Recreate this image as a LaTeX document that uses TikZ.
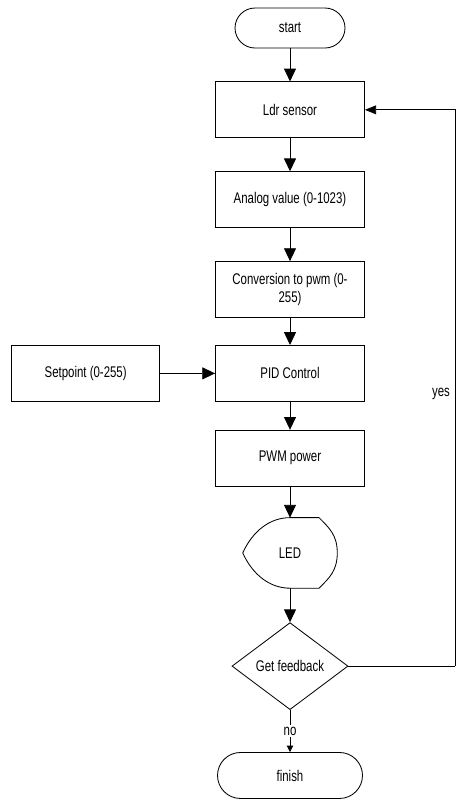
\documentclass[tikz,border=0pt]{standalone}
\usepackage{fontspec}
\setmainfont{Liberation Sans}[FakeStretch=0.74]
\usepackage{tikz}
\usetikzlibrary{shapes.geometric, arrows.meta, positioning}
\tikzset{
	terminal/.style={
		rectangle,
		rounded corners=0.5cm,
		minimum width=2.75cm,
		minimum height=1cm,
		text centered,
		draw=black,
		fill=white,
		line width=0.6pt,
		font=\fontsize{11}{12}\selectfont
	},
	process/.style={
		rectangle,
		minimum width=3.725cm,
		minimum height=1.4cm,
		text centered,
		align=center,
		draw=black,
		fill=white,
		line width=0.6pt,
		font=\fontsize{11}{13}\selectfont
	},
	decision/.style={
		diamond,
		aspect=1.33,
		minimum width=2.9cm,
		minimum height=2.175cm,
		inner sep=0pt,
		text centered,
		draw=black,
		fill=white,
		line width=0.6pt,
		font=\fontsize{11}{12}\selectfont
	},
	display/.style={
		rectangle,
		minimum width=2.35cm,
		minimum height=1.75cm,
		text centered,
		font=\fontsize{11}{12}\selectfont
	},
	arrow/.style={line width=0.6pt,-{Triangle[length=3.2mm,width=3mm]}},
	smallarrow/.style={line width=0.6pt,-{Triangle[length=1.6mm,width=1.6mm]}}
}

\begin{document}
\begin{tikzpicture}
				\useasboundingbox (0,0) rectangle (11.575,-20.025);
				\node (start) [terminal] at (7.25,-0.7) {start};
				\node (ldr) [process, below=0.825cm of start] {Ldr sensor};
				\node (analog) [process, below=0.825cm of ldr] {Analog value (0-1023)};
				\node (conv) [process, below=0.825cm of analog] {Conversion to pwm (0-\\255)};
				\node (pid) [process, below=0.675cm of conv] {PID Control};
				\node (setpoint) [process, left=1.375cm of pid, minimum width=3.7cm] {Setpoint (0-255)};
				\node (pwm) [process, below=0.7cm of pid] {PWM power};
				\node (led) [display, below=0.775cm of pwm] {LED};
				\node (feedback) [decision, below=0.85cm of led] {Get feedback};
				\node (finish) [terminal, below=1.05cm of feedback, minimum width=3.625cm, minimum height=1.15cm, rounded corners=0.575cm] {finish};
				\coordinate (back) at (11.375,0 |- feedback.east);
				
				% display shape round the LED node
				\draw [line width=0.6pt] (led.north) -- ++(0.725,0)
					.. controls +(0.25,-0.25) and +(0,0.45) .. (led.east)
					.. controls +(0,-0.45) and +(0.25,0.25) .. ([xshift=0.725cm]led.south)
					-- (led.south)
					.. controls +(-0.5,0) and +(0.25,-0.55) .. (led.west)
					.. controls +(0.25,0.55) and +(-0.5,0) .. (led.north);
				
				\draw [arrow] (start) -- (ldr);
				\draw [arrow] (ldr) -- (analog);
				\draw [arrow] (analog) -- (conv);
				\draw [arrow] (conv) -- (pid);
				\draw [arrow] (setpoint) -- (pid);
				\draw [arrow] (pid) -- (pwm);
				\draw [arrow] (pwm) -- (led);
				\draw [arrow] (led) -- (feedback);
				\draw [smallarrow] (feedback) -- node[fill=white, inner sep=1pt, font=\fontsize{11}{12}\selectfont] {no} (finish);
				\draw [line width=0.6pt] (feedback.east) -- (back);
				\draw [-{Triangle[length=2.8mm,width=2.2mm]}, line width=0.6pt] (back) -- node[left, pos=0.49, font=\fontsize{11}{12}\selectfont] {yes} (back |- ldr.east) -- (ldr.east);
			\end{tikzpicture}
\end{document}
